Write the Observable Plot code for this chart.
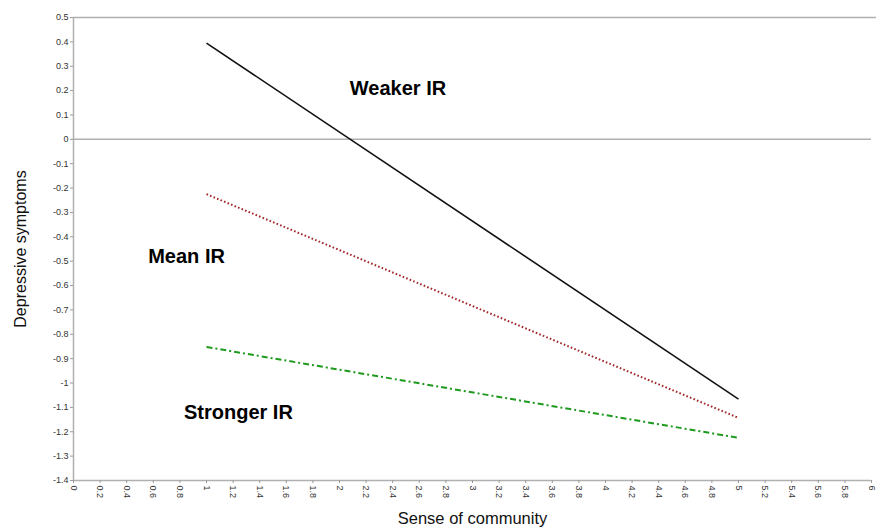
<!DOCTYPE html>
<html>
<head>
<meta charset="utf-8">
<script src="https://cdn.jsdelivr.net/npm/d3@7"></script>
<script src="https://cdn.jsdelivr.net/npm/@observablehq/plot@0.6"></script>
<style>
  body { margin: 0; background: #fff; }
  #chart svg { font-family: "Liberation Sans", Arial, sans-serif; }
</style>
</head>
<body>
<div id="chart"></div>
<script>
const communityLevels = [1, 5];
const weakerIR = [0.395, -1.066];
const meanIR = [-0.225, -1.143];
const strongerIR = [-0.852, -1.225];
const seriesNames = ["Weaker IR", "Mean IR", "Stronger IR"];
const labelX = [2.44, 0.85, 1.24];
const labelY = [0.21, -0.48, -1.12];
const xTicks = [0,0.2,0.4,0.6,0.8,1,1.2,1.4,1.6,1.8,2,2.2,2.4,2.6,2.8,3,3.2,3.4,3.6,3.8,4,4.2,4.4,4.6,4.8,5,5.2,5.4,5.6,5.8,6];
const yTicks = [0.5,0.4,0.3,0.2,0.1,0,-0.1,-0.2,-0.3,-0.4,-0.5,-0.6,-0.7,-0.8,-0.9,-1,-1.1,-1.2,-1.3,-1.4];

const seriesValues = [weakerIR, meanIR, strongerIR];
const lineData = seriesNames.flatMap((name, i) =>
  communityLevels.map((x, j) => ({series: name, x, y: seriesValues[i][j]})));
const labels = seriesNames.map((name, i) => ({name, x: labelX[i], y: labelY[i]}));
const fmt = d => String(+(+d).toFixed(1));

const styles = {
  "Weaker IR": {stroke: "#111", dash: null, w: 1.6},
  "Mean IR": {stroke: "#a0282a", dash: "1.6,2.2", w: 2},
  "Stronger IR": {stroke: "#1e9a1e", dash: "6,3,2,3", w: 2}
};

const chart = Plot.plot({
  width: 876,
  height: 529,
  marginLeft: 73,
  marginRight: 5,
  marginTop: 17,
  marginBottom: 49,
  style: {fontFamily: "Liberation Sans, Arial, sans-serif", background: "#fff"},
  x: {domain: [0, 6]},
  y: {domain: [-1.4, 0.5]},
  marks: [
    Plot.ruleY([0.5, 0], {stroke: "#b0b0b0", strokeWidth: 1.5}),
    Plot.ruleY([0.5], {x1: 6, x2: 6.1, stroke: "#b0b0b0", strokeWidth: 1.5}),
    Plot.ruleY([-1.4], {stroke: "#b0b0b0", strokeWidth: 1.5}),
    Plot.ruleX([0], {stroke: "#b0b0b0", strokeWidth: 1.5}),
    Plot.axisY({ticks: yTicks, tickFormat: fmt, tickSize: 3, tickPadding: 2, fontSize: 9, color: "#333", stroke: "#999", label: null}),
    Plot.axisX({ticks: xTicks, tickFormat: fmt, tickSize: 3, tickPadding: 2, tickRotate: 90, fontSize: 9, color: "#333", stroke: "#999", label: null}),
    ...seriesNames.map(name => Plot.line(lineData.filter(d => d.series === name), {
      x: "x", y: "y",
      stroke: styles[name].stroke,
      strokeWidth: styles[name].w,
      strokeDasharray: styles[name].dash,
      strokeLinecap: "butt"
    })),
    Plot.text(labels, {x: "x", y: "y", text: "name", fontSize: 20, fontWeight: "bold", fill: "#000"}),
    Plot.text(["Sense of community"], {frameAnchor: "bottom", textAnchor: "middle", dy: 43, fontSize: 16.5, fill: "#111"}),
    Plot.text(["Depressive symptoms"], {frameAnchor: "left", textAnchor: "middle", lineAnchor: "middle", dx: -53, rotate: -90, fontSize: 16, fill: "#111"})
  ]
});
document.getElementById("chart").appendChild(chart);
</script>
</body>
</html>
